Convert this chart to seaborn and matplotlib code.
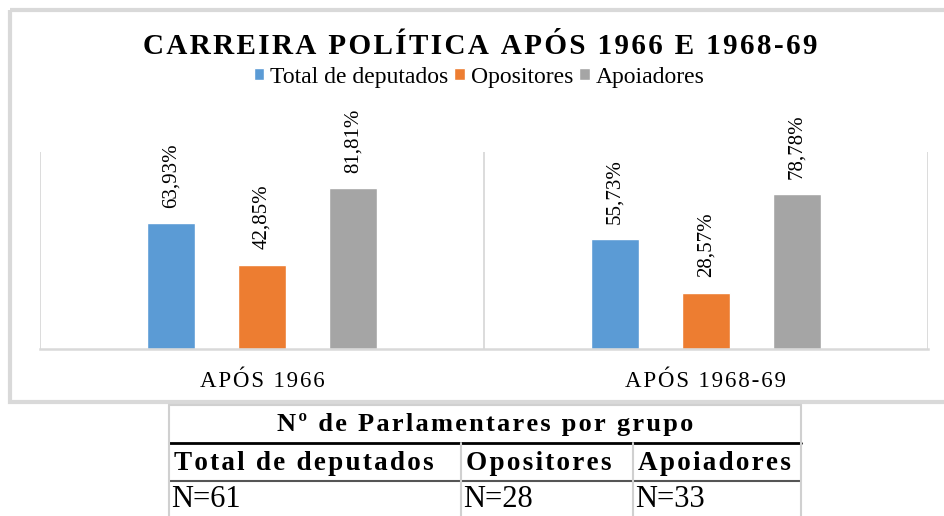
import numpy as np
import pandas as pd
import matplotlib
matplotlib.use("Agg")
import matplotlib.pyplot as plt
from matplotlib.patches import Rectangle
import seaborn as sns

# Data
periodos = ["APÓS 1966", "APÓS 1968-69"]
grupos = ["Total de deputados", "Opositores", "Apoiadores"]
total_deputados = [63.93, 55.73]
opositores = [42.85, 28.57]
apoiadores = [81.81, 78.78]
cores = ["#5B9BD5", "#ED7D31", "#A5A5A5"]

titulo = "CARREIRA POLÍTICA APÓS 1966 E 1968-69"
tabela_titulo = "Nº de Parlamentares por grupo"
tabela_grupos = ["Total de deputados", "Opositores", "Apoiadores"]
tabela_n = ["N=61", "N=28", "N=33"]

df = pd.DataFrame({
    "periodo": periodos * 3,
    "grupo": np.repeat(grupos, len(periodos)),
    "valor": total_deputados + opositores + apoiadores,
})

HAIR = "\u200a"


def spaced(s, sep):
    return sep.join(s)


sns.set_theme(style="white")
plt.rcParams["font.family"] = ["Liberation Serif", "DejaVu Serif"]
plt.rcParams["text.color"] = "black"
plt.rcParams["xtick.color"] = "black"
plt.rcParams["axes.labelcolor"] = "black"

W, H = 945, 516
fig = plt.figure(figsize=(W / 100, H / 100), dpi=100)


def px_box(l, t, r, b):
    return [l / W, 1 - b / H, (r - l) / W, (b - t) / H]


# overlay for frame + table (pixel coords)
ov = fig.add_axes([0, 0, 1, 1])
ov.set_xlim(0, W)
ov.set_ylim(H, 0)
ov.axis("off")
ov.add_patch(Rectangle((10, 10), 960, 392, fill=False, edgecolor="#d9d9d9", linewidth=3))

# main chart
ax = fig.add_axes(px_box(40, 152, 928, 349))
sns.barplot(data=df, x="periodo", y="valor", hue="grupo", order=periodos,
            hue_order=grupos, palette=cores, saturation=1, width=0.615, gap=0.48,
            ax=ax)
ax.set_xlim(-0.5, len(periodos) - 0.5)
ax.set_ylim(0, 100)
ax.set_facecolor("none")
for b in np.arange(-0.5, len(periodos), 1.0):
    ax.axvline(b, color="#d9d9d9", linewidth=1.3, zorder=0)
for s in ["top", "left", "right"]:
    ax.spines[s].set_visible(False)
ax.spines["bottom"].set_color("#d9d9d9")
ax.spines["bottom"].set_linewidth(1.8)
ax.set_yticks([])
ax.set_xlabel("")
ax.set_ylabel("")
ax.set_xticks(range(len(periodos)))
ax.set_xticklabels([spaced(p, HAIR) for p in periodos], fontsize=16.5)
ax.tick_params(axis="x", length=0, pad=16)

for cont in ax.containers:
    labels = [f"{v:.2f}".replace(".", ",") + "%" for v in cont.datavalues]
    ax.bar_label(cont, labels=labels, rotation=90, padding=11, fontsize=15)

handles, labels = ax.get_legend_handles_labels()
ax.get_legend().remove()
fig.legend(handles, labels, loc="center", bbox_to_anchor=(479 / W, 1 - 77 / H),
           ncol=3, frameon=False, fontsize=17, handlelength=0.45, handleheight=0.45,
           handletextpad=0.25, columnspacing=0.25)

fig.text(480 / W, 1 - 47 / H, spaced(titulo, HAIR), fontsize=21,
         fontweight="bold", ha="center", va="center")

# table below chart
cols = [169, 461, 633, 801]
rows = [405, 443, 481, 516]
ov.plot([cols[0], cols[-1]], [rows[0], rows[0]], color="#d0d0d0", lw=1.5)
ov.plot([cols[0], cols[-1]], [rows[1], rows[1]], color="black", lw=2)
ov.plot([cols[0], cols[-1]], [rows[2], rows[2]], color="#555555", lw=1.5)
ov.plot([cols[0], cols[0]], [rows[0], rows[-1]], color="#d0d0d0", lw=1.5)
ov.plot([cols[-1], cols[-1]], [rows[0], rows[-1]], color="#d0d0d0", lw=1.5)
for c in cols[1:-1]:
    ov.plot([c, c], [rows[1], rows[-1]], color="#d0d0d0", lw=1.5)

ov.text((cols[0] + cols[-1]) / 2, (rows[0] + rows[1]) / 2 + 1, spaced(tabela_titulo, HAIR),
        fontsize=19, fontweight="bold", ha="center", va="center")
for i, (g, n) in enumerate(zip(tabela_grupos, tabela_n)):
    ov.text(cols[i] + 5, (rows[1] + rows[2]) / 2 + 1, spaced(g, HAIR), fontsize=19.5,
            fontweight="bold", ha="left", va="center")
    ov.text(cols[i] + 2, (rows[2] + rows[3]) / 2 + 1, n, fontsize=22,
            ha="left", va="center")

fig.savefig("out.png", dpi=100, facecolor="white")
